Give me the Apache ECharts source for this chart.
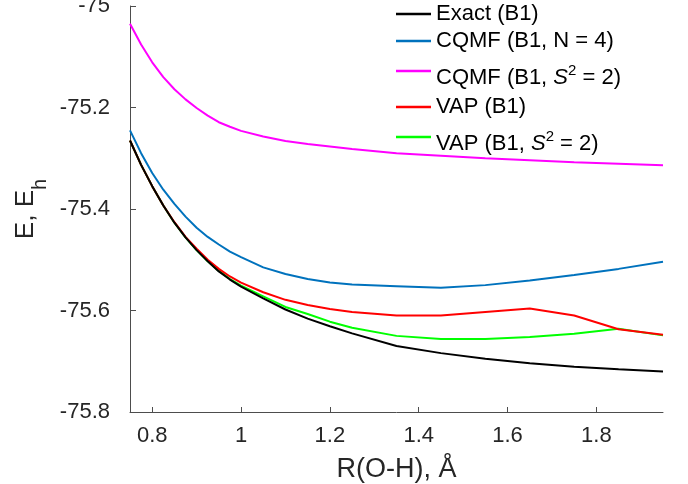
<!DOCTYPE html>
<html>
<head>
<meta charset="utf-8">
<script src="https://cdn.jsdelivr.net/npm/echarts@6/dist/echarts.min.js"></script>
<style>
  html, body { margin: 0; padding: 0; background: #fff; }
  #chart { width: 688px; height: 484px; }
</style>
</head>
<body>
<div id="chart"></div>
<script>
// Bond length R(O-H) in Angstrom
const rValues = [0.75, 0.775, 0.8, 0.825, 0.85, 0.875, 0.9, 0.925, 0.95, 0.975, 1.0, 1.05, 1.1, 1.15, 1.2, 1.25, 1.35, 1.45, 1.55, 1.65, 1.75, 1.85, 1.95];

// Energies in hartree
const exactB1 = [-75.265, -75.313, -75.355, -75.393, -75.427, -75.456, -75.481, -75.503, -75.523, -75.539, -75.553, -75.576, -75.598, -75.616, -75.631, -75.645, -75.670, -75.684, -75.695, -75.704, -75.711, -75.716, -75.720];
const cqmfN4 = [-75.245, -75.290, -75.329, -75.362, -75.390, -75.415, -75.437, -75.455, -75.470, -75.484, -75.495, -75.515, -75.528, -75.538, -75.545, -75.549, -75.552, -75.555, -75.550, -75.541, -75.530, -75.518, -75.504];
const cqmfS2 = [-75.035, -75.076, -75.111, -75.140, -75.164, -75.184, -75.201, -75.216, -75.229, -75.238, -75.246, -75.257, -75.266, -75.272, -75.277, -75.282, -75.290, -75.295, -75.300, -75.304, -75.308, -75.311, -75.314];
const vapB1 = [-75.265, -75.313, -75.355, -75.393, -75.426, -75.455, -75.478, -75.500, -75.518, -75.533, -75.545, -75.564, -75.579, -75.589, -75.597, -75.603, -75.610, -75.610, -75.603, -75.596, -75.610, -75.637, -75.648];
const vapS2 = [-75.265, -75.313, -75.355, -75.393, -75.427, -75.456, -75.481, -75.503, -75.522, -75.538, -75.551, -75.572, -75.593, -75.607, -75.622, -75.634, -75.650, -75.656, -75.656, -75.652, -75.646, -75.636, -75.649];

const seriesNames = ['Exact (B1)', 'CQMF (B1, N = 4)', 'CQMF (B1, S2 = 2)', 'VAP (B1)', 'VAP (B1, S2 = 2)'];
const seriesColors = ['#000000', '#0072BD', '#FF00FF', '#FF0000', '#00FF00'];
const seriesValues = [exactB1, cqmfN4, cqmfS2, vapB1, vapS2];

const xTicks = [0.8, 1.0, 1.2, 1.4, 1.6, 1.8];
const xMin = 0.75, xMax = 1.95;
const yMin = -75.8, yMax = -75, yStep = 0.2;

const legendLabels = {
  'Exact (B1)': '{t|Exact (B1)}',
  'CQMF (B1, N = 4)': '{t|CQMF (B1, N = 4)}',
  'CQMF (B1, S2 = 2)': '{sp|\u200b}{tb|CQMF (B1, }{s|S}{sup|2}{tb| = 2)}',
  'VAP (B1)': '{t|VAP (B1)}',
  'VAP (B1, S2 = 2)': '{sp|\u200b}{tb|VAP (B1, }{s|S}{sup|2}{tb| = 2)}'
};
const legendTops = [3, 30, 53, 96, 119];

const FONT = 'Liberation Sans, Arial, sans-serif';
const TXT = '#262626';

const chart = echarts.init(document.getElementById('chart'), null, { renderer: 'canvas' });

const series = seriesNames.map((name, i) => ({
  name: name,
  type: 'line',
  data: rValues.map((r, k) => [r, seriesValues[i][k]]),
  showSymbol: false,
  symbol: 'none',
  smooth: false,
  lineStyle: { color: seriesColors[i], width: 2 },
  itemStyle: { color: seriesColors[i] },
  z: 10 - i
}));

const legends = seriesNames.map((name, i) => ({
  orient: 'vertical',
  left: 396,
  top: legendTops[i],
  padding: 0,
  itemGap: 0,
  itemWidth: 35,
  itemHeight: 2.5,
  icon: 'rect',
  selectedMode: false,
  data: [name],
  formatter: function (n) { return legendLabels[n]; },
  textStyle: {
    color: '#000',
    fontFamily: FONT,
    fontSize: 22,
    rich: {
      t: { fontFamily: FONT, fontSize: 22, lineHeight: 26, color: '#000' },
      sp: { fontFamily: FONT, fontSize: 2, lineHeight: 36, color: '#000' },
      tb: { fontFamily: FONT, fontSize: 22, lineHeight: 26, verticalAlign: 'bottom', color: '#000' },
      s: { fontFamily: FONT, fontSize: 22, lineHeight: 26, verticalAlign: 'bottom', fontStyle: 'italic', color: '#000' },
      sup: { fontFamily: FONT, fontSize: 15, lineHeight: 15, verticalAlign: 'top', padding: [10, 0, 0, 0], color: '#000' }
    }
  }
}));

chart.setOption({
  animation: false,
  backgroundColor: '#ffffff',
  grid: { left: 130, right: 25, top: 6, bottom: 72, containLabel: false, outerBoundsMode: 'none' },
  legend: legends,
  xAxis: {
    type: 'value',
    min: xMin,
    max: xMax,
    name: 'R(O-H), Å',
    nameLocation: 'middle',
    nameGap: 44,
    nameMoveOverlap: false,
    nameTextStyle: { fontFamily: FONT, fontSize: 27, color: TXT },
    axisLine: { show: true, onZero: false, lineStyle: { color: '#4d4d4d', width: 1 } },
    axisTick: { show: true, inside: true, length: 5, customValues: xTicks, lineStyle: { color: '#4d4d4d' } },
    axisLabel: {
      customValues: xTicks,
      margin: 13,
      fontFamily: FONT,
      fontSize: 22,
      color: TXT,
      formatter: function (v) { return String(Math.round(v * 10) / 10); }
    },
    splitLine: { show: false }
  },
  yAxis: {
    type: 'value',
    min: yMin,
    max: yMax,
    interval: yStep,
    name: '{e|E, E}{h|h}',
    nameLocation: 'middle',
    nameRotate: 90,
    nameGap: 80,
    nameMoveOverlap: false,
    nameTextStyle: {
      fontFamily: FONT,
      color: TXT,
      rich: {
        e: { fontFamily: FONT, fontSize: 26, lineHeight: 26, padding: [0, 0, 22, 0], color: TXT },
        h: { fontFamily: FONT, fontSize: 20, lineHeight: 20, verticalAlign: 'bottom', color: TXT }
      }
    },
    axisLine: { show: true, onZero: false, lineStyle: { color: '#4d4d4d', width: 1 } },
    axisTick: { show: true, inside: true, length: 6, lineStyle: { color: '#4d4d4d' } },
    axisLabel: {
      margin: 20,
      fontFamily: FONT,
      fontSize: 22,
      color: TXT,
      formatter: function (v) { return String(Math.round(v * 10) / 10); }
    },
    splitLine: { show: false }
  },
  series: series
});
</script>
</body>
</html>
